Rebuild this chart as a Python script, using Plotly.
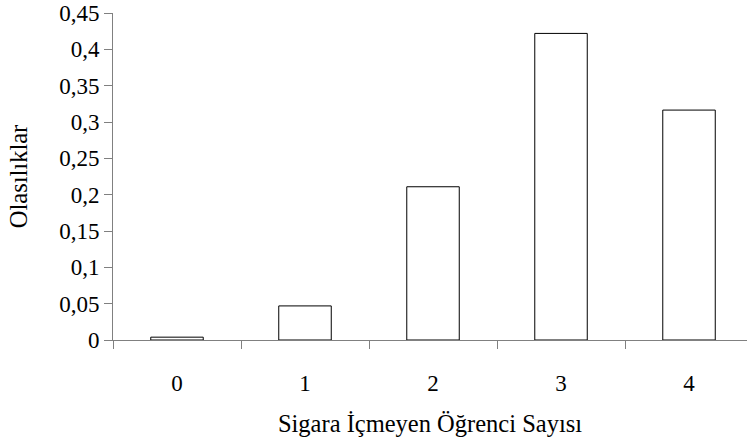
import plotly.graph_objects as go

categories = ["0", "1", "2", "3", "4"]
probabilities = [0.0039, 0.0469, 0.2109, 0.4219, 0.3164]
y_ticks = [0, 0.05, 0.1, 0.15, 0.2, 0.25, 0.3, 0.35, 0.4, 0.45]

font_family = "'Liberation Serif', 'Times New Roman', serif"

fig = go.Figure(go.Bar(
    x=categories, y=probabilities,
    marker=dict(color="white", line=dict(color="black", width=1)),
    width=0.41,
))

fig.update_layout(
    width=747, height=443,
    margin=dict(l=113, r=0, t=13, b=103, autoexpand=False),
    paper_bgcolor="white", plot_bgcolor="white",
    separators=",.",
    font=dict(family=font_family, size=23, color="black"),
    showlegend=False,
)
fig.update_xaxes(
    type="category", range=[-0.5, 4.453],
    tickson="boundaries", ticks="outside", ticklen=8, tickcolor="#808080",
    showline=True, linecolor="#808080", linewidth=1,
    showgrid=False, zeroline=False, automargin=False,
    ticklabelstandoff=22,
    tickfont=dict(family=font_family, size=23, color="black"),
    title=dict(text="Sigara İçmeyen Öğrenci Sayısı",
               font=dict(family=font_family, size=24.5, color="black"), standoff=20),
)
fig.update_yaxes(
    range=[0, 0.45], tickvals=y_ticks,
    ticks="outside", ticklen=8, tickcolor="#808080",
    showline=True, linecolor="#808080", linewidth=1,
    showgrid=False, zeroline=False, automargin=False,
    ticklabeloverflow="allow",
    tickfont=dict(family=font_family, size=23, color="black"),
    title=dict(text="Olasılıklar",
               font=dict(family=font_family, size=24.5, color="black"), standoff=24),
)

fig.write_html(
    "out.html",
    config={"displayModeBar": False},
    post_script="document.body.style.margin='0';document.body.style.overflow='hidden';",
)
